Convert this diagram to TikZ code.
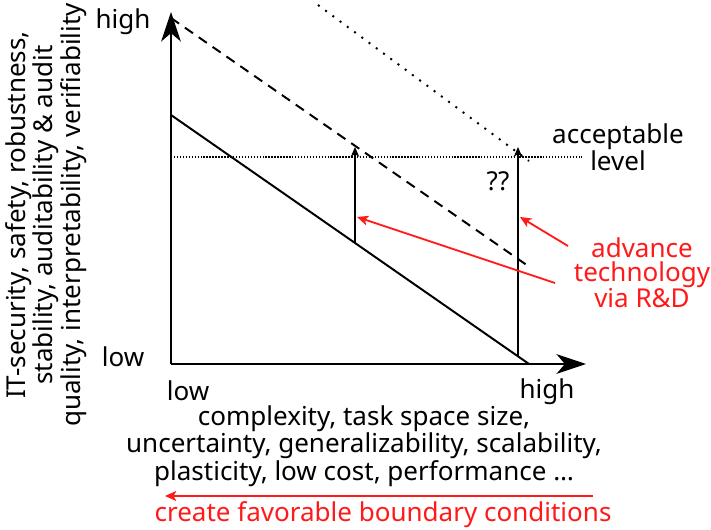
\documentclass[tikz,border=0pt]{standalone}
\usepackage{fontspec}
\setmainfont{Noto Sans}
\usepackage{xcolor}
\definecolor{hintred}{HTML}{FF1A1A}
\usetikzlibrary{arrows.meta, positioning}
\tikzset{
  axis/.style={line width=1.4pt, -{Stealth[length=21pt, width=14pt, inset=6pt]}},
  lift/.style={line width=1pt, -{Stealth[length=7pt, width=6pt, inset=2pt]}},
  hint/.style={draw=hintred, line width=1.3pt, -{Stealth[length=8pt, width=7pt, inset=2pt]}},
  lbl/.style={font=\fontsize{18.5}{16.8}\selectfont, align=center, inner sep=0pt},
  curve/.style={line width=1.4pt}
}

\begin{document}
\begin{tikzpicture}[x=0.025cm, y=-0.025cm]
  \useasboundingbox (0,0) rectangle (711,530);

  %% axes
  \coordinate (O)    at (171,364);
  \coordinate (ytop) at (171,12);
  \coordinate (xend) at (586,364);
  \draw[axis] (O) -- (ytop);
  \draw[axis] (O) -- (xend);

  %% trade-off lines
  \coordinate (nowA) at (171,115);
  \coordinate (nowB) at (529,364);
  \coordinate (rdA)  at (171,18);
  \coordinate (rdB)  at (531,268);
  \coordinate (farA) at (318,5);
  \coordinate (farB) at (529,161);
  \draw[curve] (nowA) -- (nowB);
  \draw[curve, dash pattern=on 7pt off 5pt] (rdA) -- (rdB);
  \draw[curve, dash pattern=on 1.4pt off 5pt] (farA) -- (farB);

  %% acceptable level
  \coordinate (accA) at (171,157);
  \coordinate (accB) at (582,157);
  \draw[line width=1pt, dash pattern=on 1pt off 1.1pt] (accA) -- (accB);
  \node[lbl] (acc) at (618,147) {acceptable\\level};

  %% lifts
  \coordinate (liftA) at (355,243);
  \coordinate (topA)  at (355,147);
  \coordinate (liftB) at (518,357);
  \coordinate (topB)  at (518,147);
  \draw[lift] (liftA) -- (topA);
  \draw[lift] (liftB) -- (topB);
  \node[lbl] (qq) at (498,181) {??};

  %% axis labels
  \node[lbl] (yhi) at (123,22)  {high};
  \node[lbl] (ylo) at (123,357) {low};
  \node[lbl] (xlo) at (188,391) {low};
  \node[lbl] (xhi) at (547,392) {high};
  \node[lbl, rotate=90] (ycap) at (46,215)
    {IT-security, safety, robustness,\\stability, auditability \& audit\\quality, interpretability, verifiability};
  \node[lbl] (xcap) at (364,446)
    {complexity, task space size,\\uncertainty, generalizability, scalability,\\plasticity, low cost, performance \dots};

  %% R&D hints
  \node[lbl, text=hintred] (rnd) at (642,273) {advance\\technology\\via R\&D};
  \coordinate (tailA) at (568,246);
  \coordinate (headA) at (520,217);
  \coordinate (tailB) at (555,283);
  \coordinate (headB) at (357,217);
  \draw[hint] (tailA) -- (headA);
  \draw[hint] (tailB) -- (headB);

  %% boundary conditions
  \coordinate (bcR) at (593,496);
  \coordinate (bcL) at (165,496);
  \draw[hint] (bcR) -- (bcL);
  \node[lbl, text=hintred] (bc) at (383,515) {create favorable boundary conditions};
\end{tikzpicture}
\end{document}
